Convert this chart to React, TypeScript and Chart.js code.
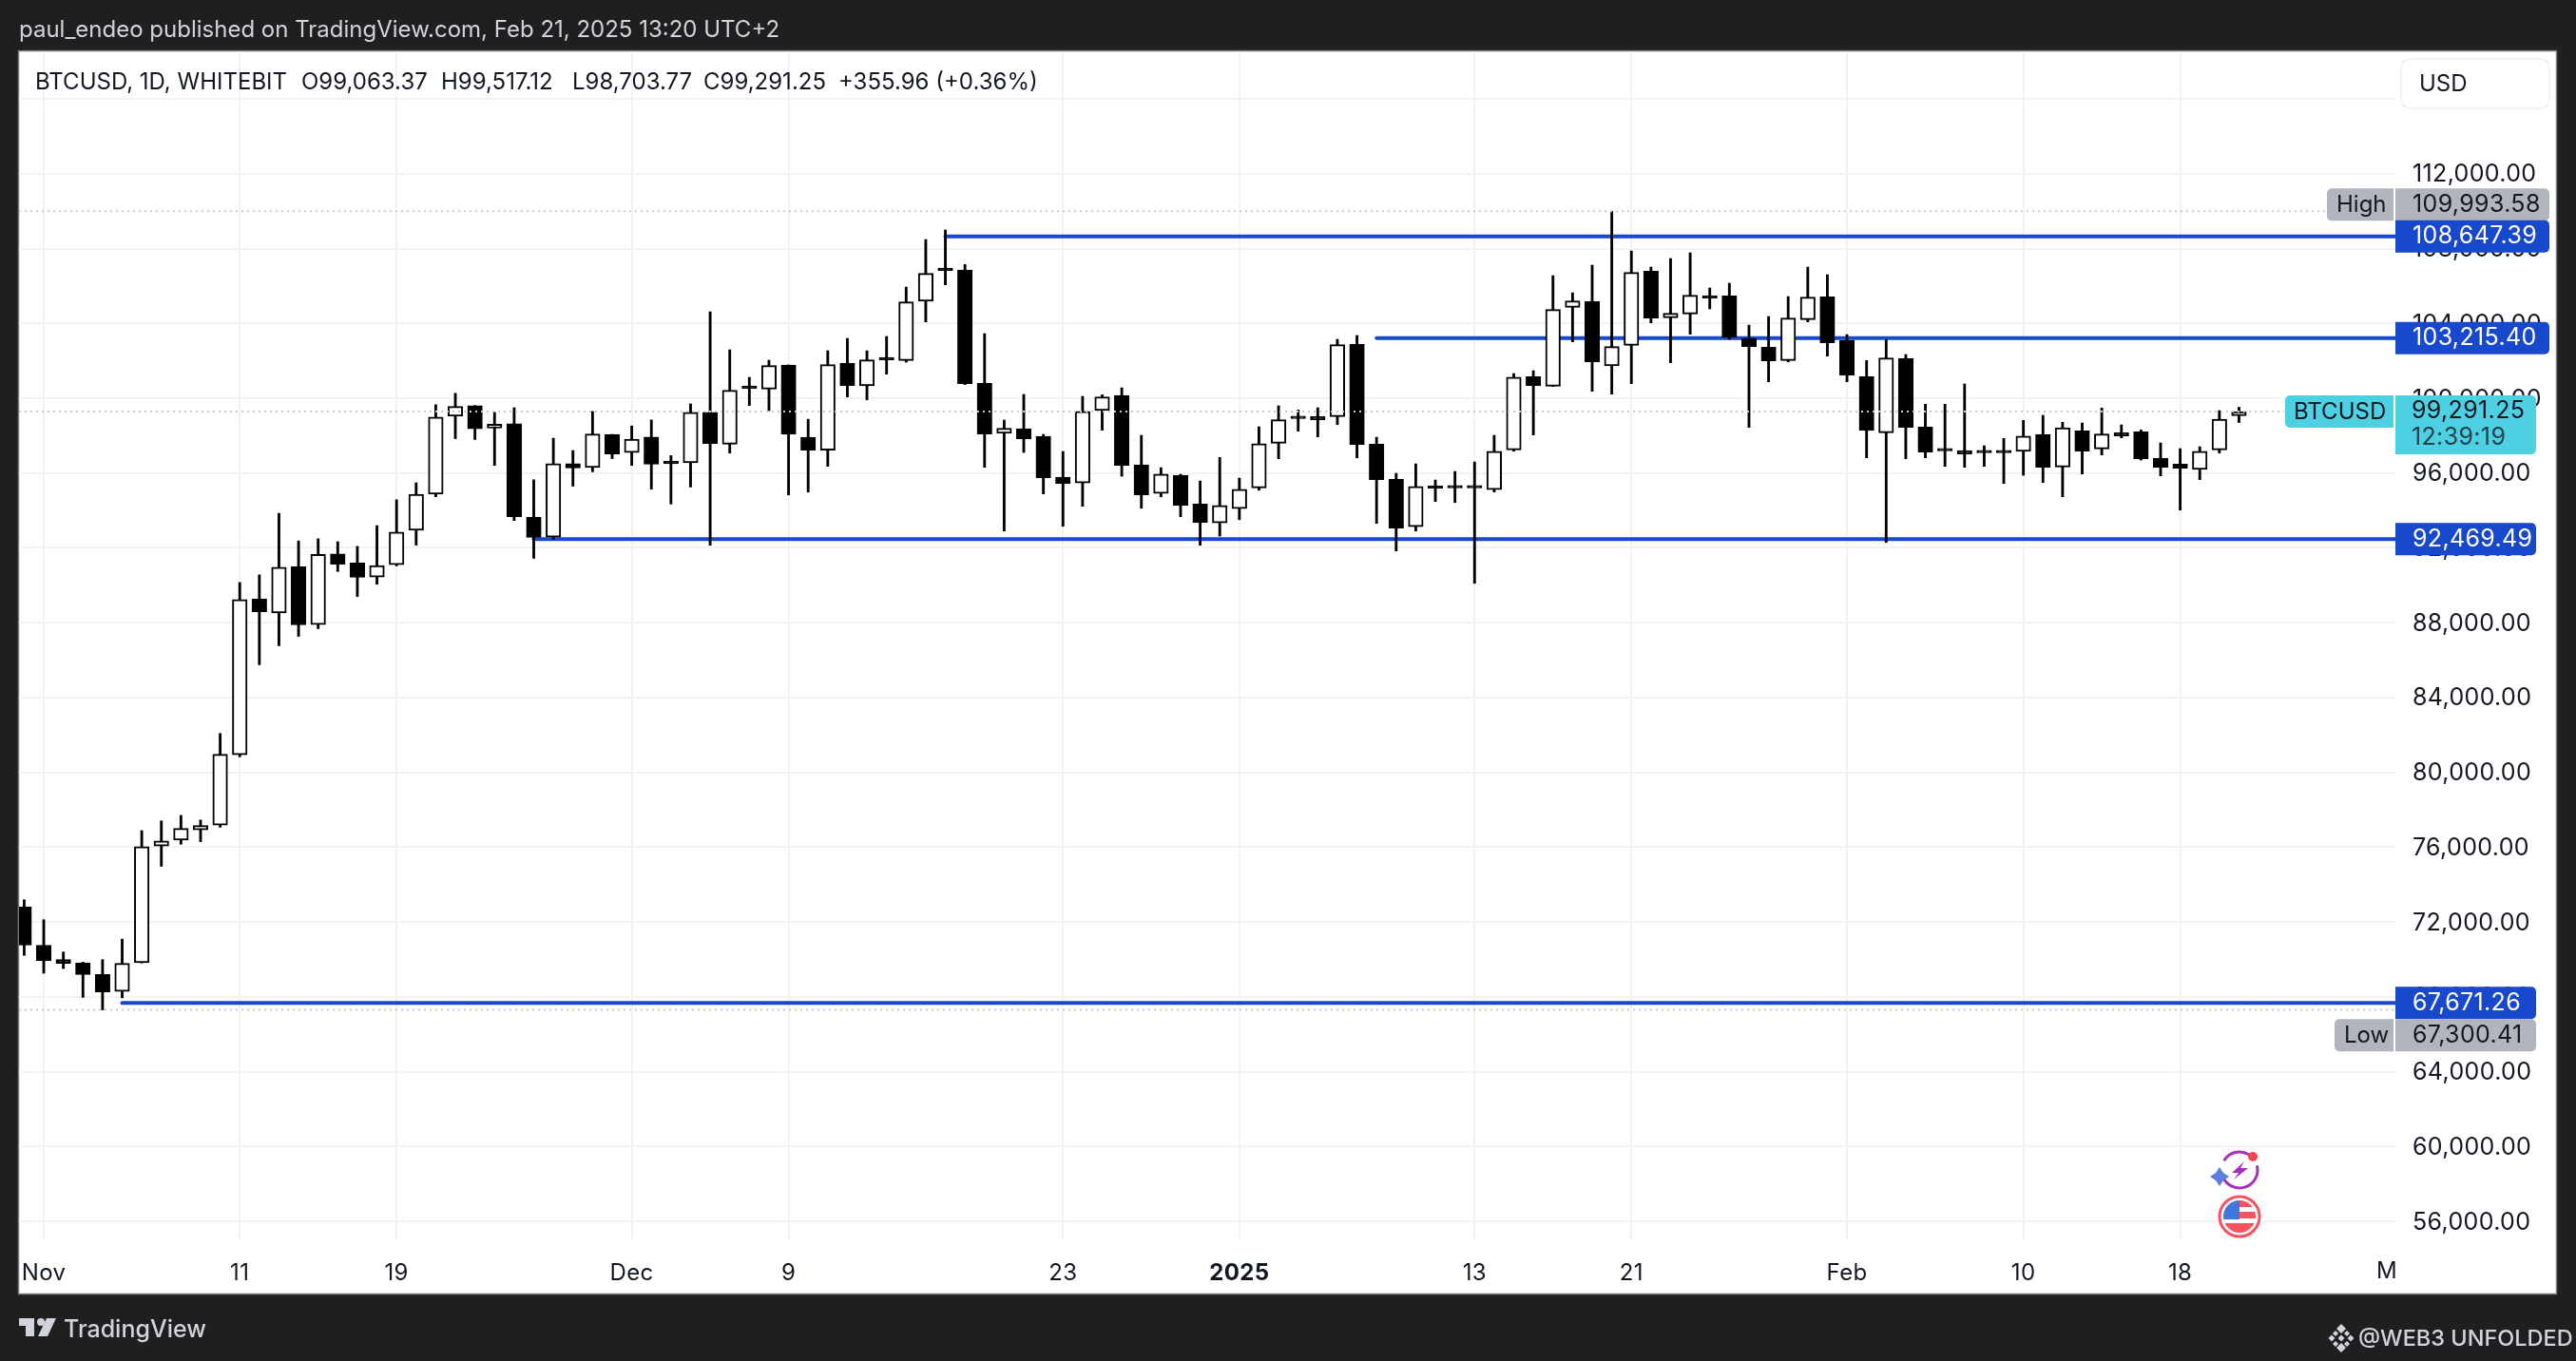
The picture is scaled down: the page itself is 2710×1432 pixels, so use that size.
import React, { useEffect, useRef } from "react";
import { Chart, registerables } from "chart.js";

Chart.register(...registerables);

const opens = [72801,70760,69989,69807,69195,68288,69830,76067,76385,76929,77179,80943,89267,88519,90991,87906,91671,91195,90446,91104,92941,94869,99042,99609,98407,98634,93644,92578,96502,96298,98067,97092,97931,96593,96547,99254,97543,100593,100491,101779,97916,97222,101863,100660,102134,102016,105183,106911,106861,100796,98120,98374,97967,95782,95477,99339,100152,96442,94918,95883,94342,93342,94104,95205,97594,98966,99017,99017,102879,97543,95663,93139,95290,95256,95256,95121,97238,101151,100643,104861,105166,101727,102828,106792,104302,104505,105454,105471,103201,102727,102015,104200,105420,103082,101152,98154,102118,98459,97239,97205,97138,97138,97155,98052,96324,98256,97290,98154,98205,96782,96477,96189,97239,99063.37];
const highs = [73187,72121,70397,69853,69989,71087,76884,77405,77700,77451,82078,90152,90560,93848,92374,92488,92329,92079,93191,94574,95481,99655,100267,99609,99246,99496,95640,97863,97205,99292,98067,98521,98838,96933,99700,104624,102592,101118,102033,101779,98882,102541,103201,102541,103303,105946,108487,108995,107148,103456,98831,100203,98069,97154,100101,100186,100559,98018,96290,95934,95578,96832,95730,98475,99593,99373,99491,103150,103354,97916,95985,96493,95629,96086,96594,98017,101321,101473,106555,105640,107114,109993.58,107876,107013,107470,107775,105895,106149,103912,104370,105437,107013,106606,103404,102016,103134,102338,99679,99679,100763,97459,97849,98815,99086,98713,98679,99475,98577,98306,97612,97307,97409,99340,99517.12];
const lows = [70216,69263,69513,67971,67300.41,67948,69810,74979,76158,76294,77065,80830,85752,86772,87271,87680,90741,89403,90061,91036,92148,94733,97840,97795,96411,93463,91444,92465,95300,96071,96774,96411,95141,94347,95255,92140,97069,99610,99339,94833,94985,96358,100068,99915,101287,101931,104082,106064,100728,96307,92902,97103,94884,93156,94223,98289,95832,94121,94731,93664,92140,92631,93511,95087,96764,98238,97933,98593,96814,93308,91834,92902,94477,94426,90106,94985,97170,98034,100626,103015,100372,100220,100779,104031,101897,103421,104777,103150,98441,100880,101947,104082,102252,100880,96816,92292,96765,96816,96358,96307,96358,95443,95884,95494,94732,95952,96968,97883,96697,95850,94021,95647,97070,98703.77];
const closes = [70760,69944,69785,69195,68266,69785,76022,76339,77007,77156,80966,89244,88587,90968,87884,91649,91127,90424,91059,92851,94869,98997,99564,98362,98611,93667,92556,96502,96275,98090,97024,97817,96479,96502,99246,97577,100423,100525,101745,98069,97222,101795,100677,102050,102050,105150,106674,106827,100779,98086,98391,97832,95748,95443,99305,100068,96408,94833,95951,94274,93359,94274,95138,97577,98848,98915,98848,102862,97526,95646,93054,95290,95188,95205,95205,97170,101134,100677,104742,105200,101947,102761,106725,104285,104539,105505,105352,103252,102761,102000,104285,105403,102964,101236,98272,102152,98442,97121,97188,97019,97087,97087,97984,96307,98425,97171,98086,97984,96748,96307,96257,97171,98882,99291.25];

const levelValues = [108647.39, 103215.4, 92469.49, 67671.26];
const levelStartIndex = [47, 69, 26, 5];
const highPrice = 109993.58;
const lowPrice = 67300.41;
const lastPrice = 99291.25;
const countdown = "12:39:19";
const priceTicks = [56000,60000,64000,68000,72000,76000,80000,84000,88000,92000,96000,100000,104000,108000,112000,116000];
const hiddenPriceTicks = [116000];
const dateTickIndex = [1,11,19,31,39,53,62,74,82,93,102,110];
const dateTickLabels = ["Nov","11","19","Dec","9","23","2025","13","21","Feb","10","18"];
const endDateTick = "M";
const headerText = "paul_endeo published on TradingView.com, Feb 21, 2025 13:20 UTC+2";
const legendParts = ["BTCUSD, 1D, WHITEBIT","O99,063.37","H99,517.12","L98,703.77","C99,291.25","+355.96 (+0.36%)"];

const FONT = "Inter, 'Noto Sans', sans-serif";
const X_MIN = -0.262;
const X_MAX = 120.98;
const Y_MIN = 54984;
const Y_MAX = 118547;
const X_HIGH_END = 117.5;
const X_LAST_END = 115.3;
const BLUE = "#1848cc";
const GRID = "#f3f3f5";
const DOT = "#c9cacf";
const INK = "#131722";
const NUM_SPACING = "0.35px";

const fmt = (v: number) =>
  v.toLocaleString("en-US", { minimumFractionDigits: 2, maximumFractionDigits: 2 });

function tag(ctx: any, x0: number, y0: number, x1: number, y1: number, fill: string, radii: number[]) {
  ctx.fillStyle = fill;
  ctx.beginPath();
  ctx.roundRect(x0, y0, x1 - x0, y1 - y0, radii);
  ctx.fill();
}
function label(ctx: any, text: string, x: number, y: number, color: string, size = 25, weight = "400", spacing = "0px") {
  ctx.letterSpacing = spacing;
  ctx.fillStyle = color;
  ctx.font = `${weight} ${size}px ${FONT}`;
  ctx.textAlign = "left";
  ctx.textBaseline = "middle";
  ctx.fillText(text, x, y);
}
function poly(ctx: any, pts: number[][], fill: string) {
  ctx.fillStyle = fill;
  ctx.beginPath();
  pts.forEach((p, i) => (i ? ctx.lineTo(p[0], p[1]) : ctx.moveTo(p[0], p[1])));
  ctx.closePath();
  ctx.fill();
}

const framePlugin = {
  id: "frame",
  beforeDraw(chart: any) {
    const ctx = chart.ctx;
    ctx.save();
    ctx.fillStyle = "#1f1f1f";
    ctx.fillRect(0, 0, 2710, 1432);
    ctx.fillStyle = "#ffffff";
    ctx.fillRect(20, 54, 2669, 1307);
    ctx.strokeStyle = "#7d7d7d";
    ctx.lineWidth = 1.5;
    ctx.strokeRect(19.5, 53.5, 2670, 1308);
    ctx.restore();
    // axis numbers inherit this spacing
    ctx.letterSpacing = NUM_SPACING;
  },
  afterDraw(chart: any) {
    const ctx = chart.ctx;
    const y = chart.scales.y;
    ctx.save();
    // header and footer
    label(ctx, headerText, 20, 32, "#d1d4dc", 24);
    label(ctx, "TradingView", 67, 1399, "#d1d4dc", 25, "500");
    label(ctx, "@WEB3 UNFOLDED", 2481, 1409, "#d1d4dc", 23.5, "500");
    // tradingview logo
    poly(ctx, [[20,1387],[36,1387],[36,1406],[27,1406],[27,1395],[20,1395]], "#d1d4dc");
    ctx.fillStyle = "#d1d4dc";
    ctx.beginPath(); ctx.arc(43, 1391, 4, 0, Math.PI * 2); ctx.fill();
    poly(ctx, [[49,1387],[59,1387],[50,1406],[40,1406]], "#d1d4dc");
    // binance style mark
    const bx = 2463, by = 1408;
    [[0,-10,5],[0,10,5],[-10,0,3.5],[10,0,3.5],[0,0,3.5],[-6,-5,3],[6,-5,3],[-6,6,3],[6,6,3]].forEach(([dx,dy,r]) =>
      poly(ctx, [[bx+dx,by+dy-r],[bx+dx+r,by+dy],[bx+dx,by+dy+r],[bx+dx-r,by+dy]], "#d1d4dc"));
    // legend
    const legendX = [37, 317, 464, 602, 740, 882];
    legendParts.forEach((t, i) => label(ctx, t, legendX[i], 87, INK, 24));
    // end tick on the time axis
    label(ctx, endDateTick, 2500, 1338, INK, 24);
    // USD box
    ctx.strokeStyle = "#f0f1f4";
    ctx.lineWidth = 1.5;
    ctx.beginPath(); ctx.roundRect(2526, 62, 156, 52, 9); ctx.stroke();
    label(ctx, "USD", 2545, 89, INK, 24);
    // price tags
    const r = 5;
    const valTag = (text: string, y0: number, fill: string, color: string, x1: number) => {
      tag(ctx, 2520, y0, x1, y0 + 34, fill, [0, r, r, 0]);
      label(ctx, text, 2538, y0 + 17, color, 25, "400", NUM_SPACING);
    };
    const gray = "#b2b5be";
    const yHigh = y.getPixelForValue(highPrice) - 24;
    tag(ctx, 2448, yHigh, 2518, yHigh + 34, gray, [r, 0, 0, r]);
    label(ctx, "High", 2458, yHigh + 17, INK, 24);
    valTag(fmt(highPrice), yHigh, gray, INK, 2682);
    valTag(fmt(levelValues[0]), y.getPixelForValue(levelValues[0]) - 17, BLUE, "#ffffff", 2682);
    valTag(fmt(levelValues[1]), y.getPixelForValue(levelValues[1]) - 17, BLUE, "#ffffff", 2682);
    valTag(fmt(levelValues[2]), y.getPixelForValue(levelValues[2]) - 17, BLUE, "#ffffff", 2668);
    valTag(fmt(levelValues[3]), y.getPixelForValue(levelValues[3]) - 17, BLUE, "#ffffff", 2668);
    const yLow = y.getPixelForValue(levelValues[3]) + 17;
    tag(ctx, 2456, yLow, 2518, yLow + 34, gray, [r, 0, 0, r]);
    label(ctx, "Low", 2466, yLow + 17, INK, 24);
    valTag(fmt(lowPrice), yLow, gray, INK, 2668);
    const cyan = "#4dd0e1";
    const yLast = y.getPixelForValue(lastPrice) - 17;
    tag(ctx, 2404, yLast, 2518, yLast + 34, cyan, [r, 0, 0, r]);
    label(ctx, "BTCUSD", 2413, yLast + 18, INK, 24);
    tag(ctx, 2520, yLast, 2668, yLast + 62, cyan, [0, r, r, 0]);
    label(ctx, fmt(lastPrice), 2537, yLast + 17, INK, 25, "400", NUM_SPACING);
    label(ctx, countdown, 2537, yLast + 45, "#27404d", 25, "400", NUM_SPACING);
    // event icons
    ctx.letterSpacing = "0px";
    const ix = 2356, iy = 1231;
    ctx.strokeStyle = "#a62fbb";
    ctx.lineWidth = 3;
    ctx.beginPath(); ctx.arc(ix, iy, 19, -2.6, -0.7); ctx.stroke();
    ctx.beginPath(); ctx.arc(ix, iy, 19, -0.25, 2.7); ctx.stroke();
    poly(ctx, [[2361,1222],[2348,1234],[2355,1234],[2350,1241],[2365,1229],[2357,1229]], "#a62fbb");
    ctx.fillStyle = "#f7434f";
    ctx.beginPath(); ctx.arc(2370, 1217, 5, 0, Math.PI * 2); ctx.fill();
    poly(ctx, [[2335,1228],[2339,1234],[2345,1238],[2339,1242],[2335,1248],[2331,1242],[2325,1238],[2331,1234]], "#5b7fe0");
    const fx = 2356, fy = 1280, fr = 21;
    ctx.fillStyle = "#ffffff";
    ctx.beginPath(); ctx.arc(fx, fy, fr, 0, Math.PI * 2); ctx.fill();
    ctx.save();
    ctx.beginPath(); ctx.arc(fx, fy, fr - 4, 0, Math.PI * 2); ctx.clip();
    ctx.fillStyle = "#f7525f";
    ctx.fillRect(fx, fy - 17, 17, 7);
    ctx.fillRect(fx, fy - 5, 17, 7);
    ctx.fillRect(fx - 17, fy + 7, 34, 10);
    ctx.fillStyle = "#3f76e0";
    ctx.fillRect(fx - 17, fy - 17, 17, 20);
    ctx.restore();
    ctx.strokeStyle = "#f7525f";
    ctx.lineWidth = 3;
    ctx.beginPath(); ctx.arc(fx, fy, fr, 0, Math.PI * 2); ctx.stroke();
    ctx.restore();
  },
};

export default function App() {
  const ref = useRef<HTMLCanvasElement>(null);
  useEffect(() => {
    document.body.style.margin = "0";
    document.body.style.background = "#1f1f1f";
    const idx = opens.map((_, i) => i);
    const levelSets = levelValues.map((v, k) => ({
      type: "line" as const,
      label: fmt(v),
      data: [{ x: levelStartIndex[k], y: v }, { x: X_MAX, y: v }],
      borderColor: BLUE,
      borderWidth: 4,
      borderCapStyle: "round" as const,
      pointRadius: 0,
      order: 5,
    }));
    const dotted = (name: string, v: number, end: number) => ({
      type: "line" as const,
      label: name,
      data: [{ x: X_MIN, y: v }, { x: end, y: v }],
      borderColor: DOT,
      borderWidth: 2,
      borderDash: [2, 4],
      pointRadius: 0,
      order: 0,
    });
    const chart = new Chart(ref.current as HTMLCanvasElement, {
      type: "bar",
      data: {
        datasets: [
          ...levelSets,
          {
            type: "bar",
            label: "wick",
            data: idx.map((i) => ({ x: i, y: [lows[i], highs[i]] })),
            backgroundColor: "#000000",
            barThickness: 2.2,
            grouped: false,
            order: 3,
          },
          {
            type: "bar",
            label: "body",
            data: idx.map((i) => ({ x: i, y: [opens[i], closes[i]] })),
            backgroundColor: idx.map((i) => (closes[i] >= opens[i] ? "#ffffff" : "#000000")),
            borderColor: "#000000",
            borderWidth: 2,
            borderSkipped: false,
            barThickness: 15.5,
            minBarLength: 2.5,
            grouped: false,
            order: 2,
          },
          dotted("high", highPrice, X_HIGH_END),
          dotted("low", lowPrice, X_MAX),
          dotted("last", lastPrice, X_LAST_END),
        ] as any,
      },
      options: {
        responsive: false,
        animation: false,
        devicePixelRatio: 1,
        events: [],
        layout: { padding: { left: 20, top: 54, right: 0, bottom: 0 } },
        plugins: { legend: { display: false }, tooltip: { enabled: false } },
        scales: {
          x: {
            type: "linear",
            offset: false,
            min: X_MIN,
            max: X_MAX,
            afterFit(s: any) { s.height = 127; },
            afterBuildTicks(s: any) { s.ticks = dateTickIndex.map((value) => ({ value })); },
            border: { display: false },
            grid: { color: GRID, lineWidth: 2, drawTicks: false, offset: false },
            ticks: {
              autoSkip: false,
              maxRotation: 0,
              padding: 20,
              color: INK,
              font: (c: any) => ({ family: FONT, size: 24, weight: c.index === 6 ? "700" : "400" }),
              callback: (_: any, i: number) => dateTickLabels[i],
            },
          },
          y: {
            type: "linear",
            position: "right",
            min: Y_MIN,
            max: Y_MAX,
            afterFit(s: any) { s.width = 190; },
            afterBuildTicks(s: any) { s.ticks = priceTicks.map((value) => ({ value })); },
            border: { display: false },
            grid: { color: GRID, lineWidth: 2, drawTicks: false },
            ticks: {
              autoSkip: false,
              padding: 18,
              labelOffset: 1,
              color: INK,
              font: { family: FONT, size: 25 },
              callback: (v: any) => (hiddenPriceTicks.includes(Number(v)) ? "" : fmt(Number(v))),
            },
          },
        },
      } as any,
      plugins: [framePlugin],
    });
    return () => chart.destroy();
  }, []);
  return (
    <canvas
      ref={ref}
      width={2710}
      height={1432}
      style={{ position: "fixed", left: 0, top: 0, display: "block", width: 2710, height: 1432 }}
    />
  );
}
